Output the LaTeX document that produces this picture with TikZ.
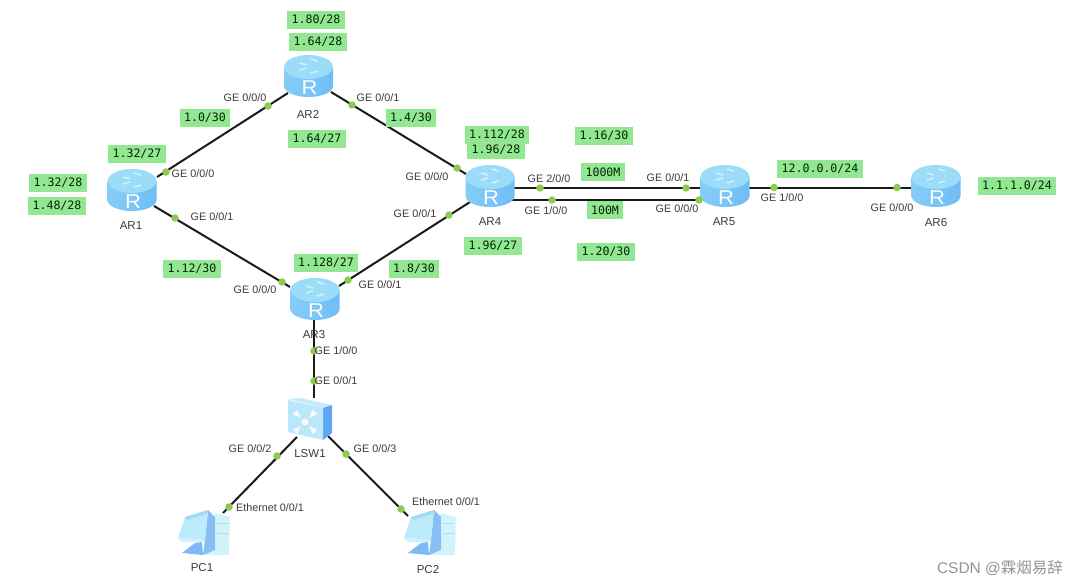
\documentclass[tikz,border=0pt]{standalone}
\usepackage{fontspec}
\setmainfont{Liberation Sans}
\newfontfamily\lblfont{DejaVu Sans Mono}
\newfontfamily\cjkfont{Noto Sans CJK SC}
\definecolor{lblgreen}{HTML}{93E793}
\definecolor{dotgreen}{HTML}{8CCB4E}
\definecolor{linkc}{HTML}{1A1A1A}
\definecolor{txtc}{HTML}{3A3A3A}
\definecolor{bodyl}{HTML}{86CCF8}
\definecolor{bodym}{HTML}{BDE8FC}
\definecolor{bodyr}{HTML}{6FBDF6}
\definecolor{topc}{HTML}{9BDDF9}
\definecolor{sidec}{HTML}{5FA8F0}
\definecolor{screenc}{HTML}{BCEBFB}
\definecolor{towerc}{HTML}{D3F3FC}
\tikzset{
  x=1pt,y=-1pt,
  rbox/.style={rectangle,minimum width=48pt,minimum height=42pt,inner sep=0pt},
  swbox/.style={rectangle,minimum width=44pt,minimum height=42pt,inner sep=0pt},
  pcbox/.style={rectangle,minimum width=50pt,minimum height=50pt,inner sep=0pt},
  link/.style={draw=linkc,line width=2pt},
  dot/.style={circle,fill=dotgreen,minimum size=7.5pt,inner sep=0pt},
  iface/.style={font=\fontsize{10.8}{12}\selectfont,text=txtc,inner sep=0pt},
  devname/.style={font=\fontsize{11.5}{13}\selectfont,text=txtc,inner sep=0pt},
  ip/.style={fill=lblgreen,font=\lblfont\fontsize{11.6}{13}\selectfont,text=black!85!green,inner xsep=4.5pt,inner ysep=0pt,minimum height=17.5pt},
  router/.pic={
    \path[left color=bodyl,middle color=bodym,right color=bodyr]
      (-24.5,-9) -- (-24.5,10) arc[start angle=180,end angle=360,x radius=24.5pt,y radius=11pt] -- (24.5,-9) -- cycle;
    \path[fill=topc] (0,-9) ellipse[x radius=24.5pt,y radius=12pt];
    \foreach \a/\b/\c/\d in {-9/-13/-2/-11, 2/-17/9/-15, -9/-6/-2/-8, 2/-3/9/-5}
      \draw[white,opacity=.6,line width=1.4pt] (\a,\b) -- (\c,\d);
    \node[font=\fontsize{20}{20}\selectfont,text=white,inner sep=0pt,xscale=1.1] (-glyph) at (1,12) {R};
  },
  switchpic/.pic={
    \path[fill=topc!60!white] (-22,-20) -- (-10,-21) -- (22,-14) -- (13,-11) -- cycle;
    \path[fill=sidec] (13,-11) -- (22,-14) -- (22,14) -- (13,21) -- cycle;
    \path[left color=topc!70!white,right color=bodym] (-22,-19) -- (13,-11) -- (13,21) -- (-22,13) -- cycle;
    \foreach \a in {45,135,225,315}
      \draw[white,opacity=.85,line width=2pt,-latex,shift={(-5,3)}] (\a:14pt) -- (\a:5pt);
    \path[fill=white,opacity=.85] (-5,3) circle[radius=3.5pt];
  },
  pcpic/.pic={
    \path[fill=towerc] (13,-22) -- (28,-18) -- (27,20) -- (3,20) -- cycle;
    \foreach \yy in {-12,-2}
      \draw[bodyl!70!white,line width=.6pt] (15,\yy) -- (26,\yy);
    \path[fill=sidec!80!white] (-7,8) -- (0,7) -- (1,20) -- (-20,18) -- cycle;
    \path[fill=sidec!75!white] (6,-25) -- (13,-18) -- (13,15) -- (1,20) -- (3,5) -- cycle;
    \path[fill=screenc] (-17,-18) -- (6,-25) -- (3,5) -- (-24,3) -- cycle;
    \path[fill=bodyl!75!white] (-17,-18) -- (6,-25) -- (5,-21) -- (-15,-15) -- cycle;
    \path[fill=bodym!70!white] (-24,3) -- (3,5) -- (3,7) -- (-20,7) -- cycle;
  },
}
\begin{document}
\begin{tikzpicture}
\useasboundingbox (0,0) rectangle (1085,586);
% device boxes
\node[rbox] (ar1) at (132,190) {};
\node[rbox] (ar2) at (308.5,76) {};
\node[rbox] (ar3) at (315,299) {};
\node[rbox] (ar4) at (490,186) {};
\node[rbox] (ar5) at (725,186) {};
\node[rbox] (ar6) at (936,186) {};
\node[swbox] (lsw) at (310,419) {};
\node[pcbox] (pc1) at (202,535) {};
\node[pcbox] (pc2) at (428,535) {};
% connectors
\draw[link] ([shift={(25,-13)}]ar1.center) -- ([shift={(-20.5,17)}]ar2.center);
\draw[link] ([shift={(22.5,16)}]ar2.center) -- ([shift={(-24,-12)}]ar4.center);
\draw[link] ([shift={(22,16)}]ar1.center) -- ([shift={(-25,-12)}]ar3.center);
\draw[link] ([shift={(24,-13)}]ar3.center) -- ([shift={(-20,16)}]ar4.center);
\draw[link,line width=2.2pt] ([shift={(24,2)}]ar4.center) -- ([shift={(-25,2)}]ar5.center);
\draw[link,line width=2.2pt] ([shift={(22,14)}]ar4.center) -- ([shift={(-28,14)}]ar5.center);
\draw[link] ([shift={(24,1.5)}]ar5.center) -- ([shift={(-24,1.5)}]ar6.center);
\draw[link] ([shift={(-1,21)}]ar3.center) -- ([shift={(4,-21)}]lsw.center);
\draw[link] ([shift={(-13,18)}]lsw.center) -- ([shift={(21,-22)}]pc1.center);
\draw[link] ([shift={(18,17)}]lsw.center) -- ([shift={(-20,-19)}]pc2.center);
% device drawings
\pic (rp1) at (ar1) {router};
\pic (rp2) at (ar2) {router};
\pic (rp3) at (ar3) {router};
\pic (rp4) at (ar4) {router};
\pic (rp5) at (ar5) {router};
\pic (rp6) at (ar6) {router};
\pic (swp) at (lsw) {switchpic};
\pic (pcp1) at (pc1) {pcpic};
\pic (pcp2) at (pc2) {pcpic};
% dots
\foreach \n/\p in {a/{166,172},b/{268,106},c/{352,105},d/{457,168},e/{175,218},f/{282,282},g/{348,280},h/{449,215},
  i/{540,188},j/{686,188},k/{552,200},l/{699,200},m/{774,187.5},n/{897,187.5},o/{314,351},p/{314,381},
  q/{277,456},r/{229,507},s/{346,454},t/{401,509}}
  \node[dot] (dot\n) at (\p) {};
% device names
\node[devname] (n1) at (131,226) {AR1};
\node[devname] (n2) at (308,114) {AR2};
\node[devname] (n3) at (314,335) {AR3};
\node[devname] (n4) at (490,222) {AR4};
\node[devname] (n5) at (724,222) {AR5};
\node[devname] (n6) at (936,223) {AR6};
\node[devname] (n7) at (310,454) {LSW1};
\node[devname] (n8) at (202,568) {PC1};
\node[devname] (n9) at (428,570) {PC2};
% interface labels
\node[iface] (i1) at (245,98) {GE 0/0/0};
\node[iface] (i2) at (193,174) {GE 0/0/0};
\node[iface] (i3) at (212,217) {GE 0/0/1};
\node[iface] (i4) at (378,98) {GE 0/0/1};
\node[iface] (i5) at (427,177) {GE 0/0/0};
\node[iface] (i6) at (415,214) {GE 0/0/1};
\node[iface] (i7) at (549,179) {GE 2/0/0};
\node[iface] (i8) at (546,211) {GE 1/0/0};
\node[iface] (i9) at (668,178) {GE 0/0/1};
\node[iface] (i10) at (677,209) {GE 0/0/0};
\node[iface] (i11) at (782,198) {GE 1/0/0};
\node[iface] (i12) at (892,208) {GE 0/0/0};
\node[iface] (i13) at (255,290) {GE 0/0/0};
\node[iface] (i14) at (380,285) {GE 0/0/1};
\node[iface] (i15) at (336,351) {GE 1/0/0};
\node[iface] (i16) at (336,381) {GE 0/0/1};
\node[iface] (i17) at (250,449) {GE 0/0/2};
\node[iface] (i18) at (375,449) {GE 0/0/3};
\node[iface] (i19) at (270,508) {Ethernet 0/0/1};
\node[iface] (i20) at (446,502) {Ethernet 0/0/1};
% green address labels
\node[ip] (l1) at (316,20) {1.80/28};
\node[ip] (l2) at (318,42) {1.64/28};
\node[ip] (l3) at (205,118) {1.0/30};
\node[ip] (l4) at (137,154) {1.32/27};
\node[ip] (l5) at (317,139) {1.64/27};
\node[ip] (l6) at (58,183) {1.32/28};
\node[ip] (l7) at (57,206) {1.48/28};
\node[ip] (l8) at (411,118) {1.4/30};
\node[ip] (l9) at (497,135) {1.112/28};
\node[ip] (l10) at (496,150) {1.96/28};
\node[ip] (l11) at (604,136) {1.16/30};
\node[ip] (l12) at (603,172) {1000M};
\node[ip] (l13) at (605,210) {100M};
\node[ip] (l14) at (493,246) {1.96/27};
\node[ip] (l15) at (606,252) {1.20/30};
\node[ip] (l16) at (414,269) {1.8/30};
\node[ip] (l17) at (192,269) {1.12/30};
\node[ip] (l18) at (326,263) {1.128/27};
\node[ip] (l19) at (820,169) {12.0.0.0/24};
\node[ip] (l20) at (1017,186) {1.1.1.0/24};
% watermark
\node[font=\fontsize{15.5}{17}\selectfont,text=black!42,inner sep=0pt] (wm) at (1000,568) {CSDN @{\cjkfont 霖烟易辞}};
\end{tikzpicture}
\end{document}
